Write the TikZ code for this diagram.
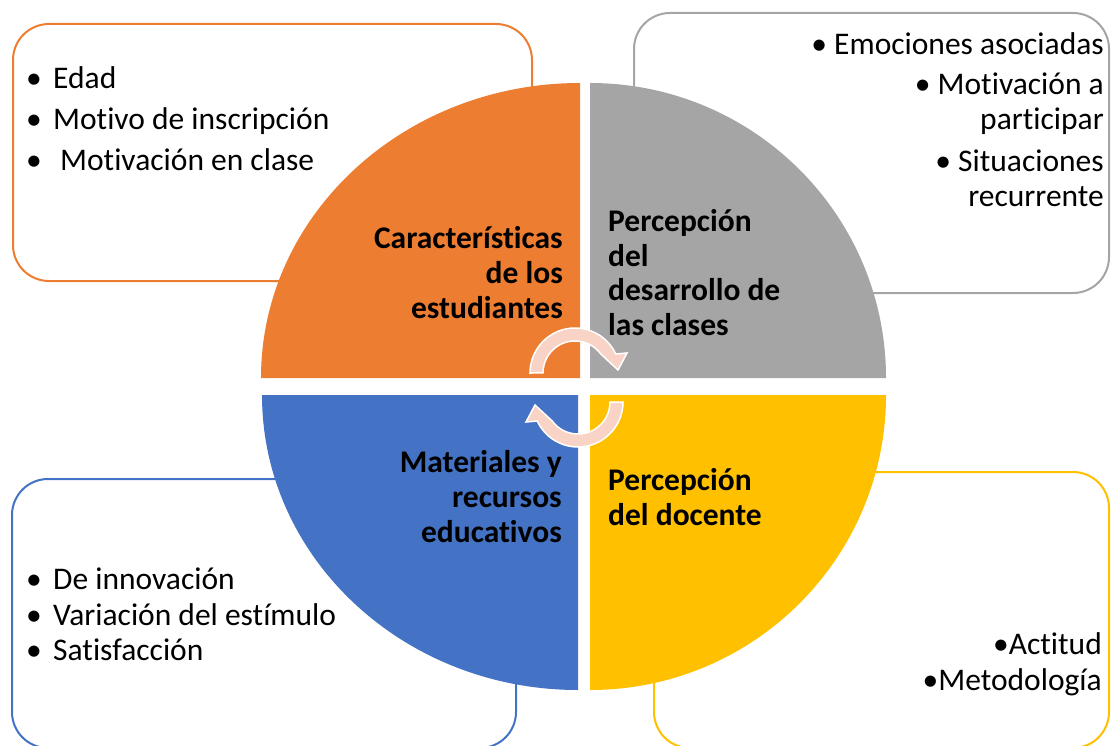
\documentclass[tikz,border=0pt]{standalone}
\usepackage{fontspec}
\setmainfont{Carlito}[Ligatures=NoCommon]
\definecolor{cOr}{HTML}{ED7D31}
\definecolor{cGr}{HTML}{A5A5A5}
\definecolor{cBl}{HTML}{4472C4}
\definecolor{cYe}{HTML}{FFC000}
\definecolor{cAr}{HTML}{F8D3C6}
\newcommand{\bul}{\makebox[27pt][l]{•}}
\begin{document}
\begin{tikzpicture}[x=1pt,y=-1pt,
  box/.style={line width=2pt, rounded corners=36pt},
  item/.style={anchor=base west, inner sep=0pt, font=\fontsize{31.5}{38}\selectfont},
  itemr/.style={anchor=base east, inner sep=0pt, font=\fontsize{31.5}{38}\selectfont},
  labr/.style={anchor=base east, inner sep=0pt, font=\fontsize{31.5}{35}\selectfont\bfseries},
  labl/.style={anchor=base west, inner sep=0pt, font=\fontsize{31.5}{35}\selectfont\bfseries},
  cyc/.style={fill=cAr, draw=white, line width=1.5pt}]
\useasboundingbox (0,0) rectangle (1111,746);
% boxes
\draw[box, cOr] (13,24) rectangle (532,281);
\draw[box, cGr] (634,13) rectangle (1109,293);
\draw[box, cBl] (12,479) rectangle (516,748);
\draw[box, cYe] (654,472) rectangle (1109,748);
% quadrants
\fill[cOr] (580,378) -- (261,378) arc[start angle=180, end angle=270, x radius=319, y radius=295] -- cycle;
\fill[cGr] (590,378) -- (590,83) arc[start angle=270, end angle=360, x radius=296, y radius=295] -- cycle;
\fill[cYe] (590,395) -- (886,395) arc[start angle=0, end angle=90, x radius=296, y radius=295] -- cycle;
\fill[cBl] (578,395) -- (578,690) arc[start angle=90, end angle=180, x radius=316, y radius=295] -- cycle;
% cycle arrows
\path[cyc] (530,373) arc[start angle=180, end angle=335, radius=45]
  -- (627,353) -- (618,370) -- (600.76,354)
  arc[start angle=323.6, end angle=180, radius=32] -- cycle;
\path[cyc] (623,402) arc[start angle=0, end angle=155, radius=45]
  -- (526,422) -- (535,405) -- (552.24,421)
  arc[start angle=143.6, end angle=0, radius=32] -- cycle;
% top-left list
\node[item] (tl1) at (26,89) {\bul Edad};
\node[item] (tl2) at (26,130) {\bul Motivo de inscripción};
\node[item] (tl3) at (26,171) {\bul\hspace{7pt}Motivación en clase};
% top-right list
\node[itemr] (tr1) at (1104,55) {• Emociones asociadas};
\node[itemr] (tr2) at (1104,95) {• Motivación a};
\node[itemr] (tr3) at (1104,130) {participar};
\node[itemr] (tr4) at (1104,172) {• Situaciones};
\node[itemr] (tr5) at (1104,207) {recurrente};
% bottom-left list
\node[item] (bl1) at (26,589) {\bul De innovación};
\node[item] (bl2) at (26,625) {\bul Variación del estímulo};
\node[item] (bl3) at (26,660) {\bul Satisfacción};
% bottom-right list
\node[itemr] (br1) at (1102,654) {•Actitud};
\node[itemr] (br2) at (1102,690) {•Metodología};
% quadrant labels
\node[labr] (o1) at (563,248) {Características};
\node[labr] (o2) at (563,283) {de los};
\node[labr] (o3) at (563,318) {estudiantes};
\node[labl] (g1) at (608,232) {Percepción};
\node[labl] (g2) at (608,266) {del};
\node[labl] (g3) at (608,300) {desarrollo de};
\node[labl] (g4) at (608,335) {las clases};
\node[labr] (b1) at (562,472) {Materiales y};
\node[labr] (b2) at (562,507) {recursos};
\node[labr] (b3) at (562,542) {educativos};
\node[labl] (y1) at (608,490) {Percepción};
\node[labl] (y2) at (608,525) {del docente};
\end{tikzpicture}
\end{document}
